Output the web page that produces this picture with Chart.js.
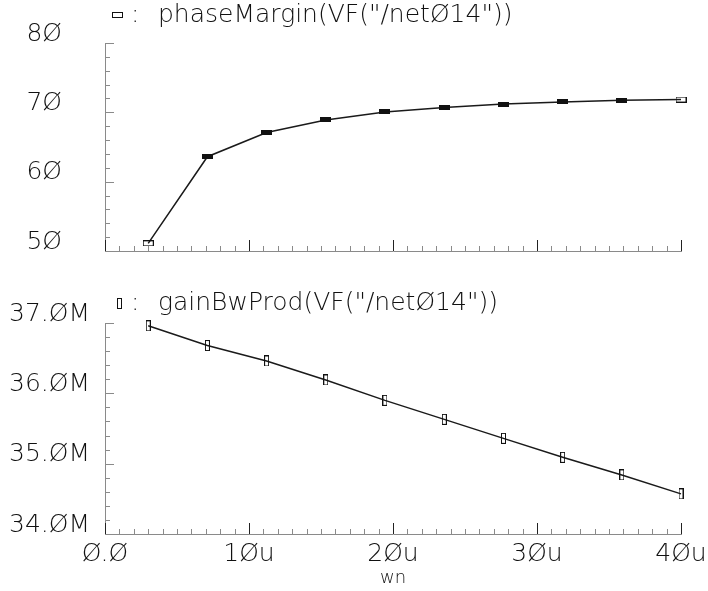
<!DOCTYPE html>
<html>
<head>
<meta charset="utf-8">
<script src="https://cdn.jsdelivr.net/npm/chart.js@4.4.0/dist/chart.umd.min.js"></script>
<style>
  html, body { margin: 0; padding: 0; background: #fff; }
  #wrap { position: relative; width: 708px; height: 591px; overflow: hidden; }
  #pmChart { position: absolute; left: 0; top: 0; }
  #gbwChart { position: absolute; left: 0; top: 262px; }
</style>
</head>
<body>
<div id="wrap">
  <canvas id="pmChart" width="708" height="262"></canvas>
  <canvas id="gbwChart" width="708" height="329"></canvas>
</div>
<script>
// Sweep variable: transistor width wn (in u)
const wn = [3, 7.11, 11.22, 15.33, 19.44, 23.56, 27.67, 31.78, 35.89, 40];
// Phase margin (degrees) at each width
const phaseMargin = [51.1, 63.6, 67.1, 68.9, 70.05, 70.7, 71.2, 71.5, 71.75, 71.85];
// Gain-bandwidth product (in M) at each width
const gainBwProd = [36.96, 36.68, 36.46, 36.19, 35.90, 35.63, 35.36, 35.09, 34.84, 34.57];

// Major tick values of each axis
const wnTicks = [0, 10, 20, 30, 40];
const pmTicks = [50, 60, 70, 80];
const gbwTicks = [34, 35, 36, 37];

const pmLabel = 'phaseMargin(VF("/net014"))';
const gbwLabel = 'gainBwProd(VF("/net014"))';

const FONT = 'DejaVu Sans';
const WEIGHT = '200';
const TEXT = '#111';
const AXIS = '#8a8a8a';

// Waveform-viewer style slashed zero
const slashZero = s => String(s).replace(/0/g, '\u00D8');

function rectMarker(w, h, filled) {
  const c = document.createElement('canvas');
  c.width = w; c.height = h;
  const g = c.getContext('2d');
  if (filled) {
    g.fillStyle = '#111';
    g.fillRect(0, 0, w, h);
  } else {
    g.strokeStyle = '#111';
    g.lineWidth = 1;
    g.strokeRect(0.5, 0.5, w - 1, h - 1);
  }
  return c;
}
const pmHollow = rectMarker(11, 6, false);
const pmFilled = rectMarker(11, 5, true);
const gbwMark = rectMarker(5, 11, false);

// Subdivide a list of major ticks into minor tick positions
function minorsOf(majors, parts) {
  const out = [];
  for (let i = 0; i < majors.length - 1; i++) {
    const step = (majors[i + 1] - majors[i]) / parts;
    for (let k = 1; k < parts; k++) out.push(majors[i] + step * k);
  }
  return out;
}

// Tick marks pointing into the plot area, major ones longer
const inwardTicks = {
  id: 'inwardTicks',
  beforeDatasetsDraw(chart, args, opts) {
    const { ctx, chartArea: a, scales: { x, y } } = chart;
    ctx.save();
    ctx.lineWidth = 1;
    const xs = (vals, len, color) => {
      ctx.strokeStyle = color;
      ctx.beginPath();
      vals.forEach(v => {
        const px = Math.round(x.getPixelForValue(v)) + 0.5;
        ctx.moveTo(px, a.bottom);
        ctx.lineTo(px, a.bottom - len);
      });
      ctx.stroke();
    };
    const ys = (vals, len, color) => {
      ctx.strokeStyle = color;
      ctx.beginPath();
      vals.forEach(v => {
        const py = Math.round(y.getPixelForValue(v)) + 0.5;
        ctx.moveTo(a.left, py);
        ctx.lineTo(a.left + len, py);
      });
      ctx.stroke();
    };
    xs(minorsOf(opts.xMajor, 10), 5, AXIS);
    xs(opts.xMajor, 11, '#222');
    ys(minorsOf(opts.yMajor, 5), 5, AXIS);
    ys(opts.yMajor, 9, AXIS);
    ctx.restore();
  }
};

// Series caption above each plot: marker, colon, expression
const seriesCaption = {
  id: 'seriesCaption',
  afterDraw(chart, args, opts) {
    const { ctx } = chart;
    const ds = chart.data.datasets[0];
    ctx.save();
    ctx.drawImage(opts.marker, Math.round(opts.mx - opts.marker.width / 2), Math.round(opts.y - opts.marker.height / 2));
    ctx.fillStyle = TEXT;
    ctx.font = `${WEIGHT} 25px "${FONT}"`;
    ctx.textBaseline = 'middle';
    ctx.textAlign = 'left';
    ctx.fillText(':', opts.cx, opts.y);
    ctx.fillText(slashZero(ds.label), opts.tx, opts.y);
    ctx.restore();
  }
};

function baseOptions() {
  return {
    responsive: false,
    animation: false,
    events: [],
    plugins: { legend: { display: false }, tooltip: { enabled: false } },
    elements: { line: { tension: 0 } }
  };
}

const tickFont = { family: FONT, size: 25, weight: WEIGHT };

// Axis box of fixed size; label overhang does not move the plot area
const fixBox = (w, h) => s => {
  if (w !== null) s.width = w;
  if (h !== null) s.height = h;
  s.paddingTop = 0; s.paddingBottom = 0; s.paddingLeft = 0; s.paddingRight = 0;
};

// Upper plot: phase margin
const pmOpts = baseOptions();
pmOpts.layout = { padding: { left: 0, top: 43, right: 27, bottom: 0 } };
pmOpts.scales = {
  x: {
    type: 'linear', min: 0, max: 40,
    grid: { display: false, drawTicks: false },
    border: { display: true, color: AXIS, width: 1 },
    ticks: { display: false, stepSize: 10 },
    afterFit: fixBox(null, 11)
  },
  y: {
    type: 'linear', min: 50, max: 80,
    grid: { display: false, drawTicks: false },
    border: { display: true, color: AXIS, width: 1 },
    afterBuildTicks: s => { s.ticks = pmTicks.map(v => ({ value: v })); },
    ticks: {
      color: TEXT, font: tickFont, padding: 43, labelOffset: -9, autoSkip: false,
      callback: v => slashZero(v)
    },
    afterFit: fixBox(105, null)
  }
};
pmOpts.plugins.inwardTicks = { xMajor: wnTicks, yMajor: pmTicks };
pmOpts.plugins.seriesCaption = { marker: pmHollow, mx: 117, cx: 131, tx: 158, y: 15 };

new Chart(document.getElementById('pmChart'), {
  type: 'line',
  data: {
    datasets: [{
      label: pmLabel,
      data: wn.map((x, i) => ({ x, y: phaseMargin[i] })),
      borderColor: '#1a1a1a',
      borderWidth: 1.5,
      clip: false,
      pointStyle: c => (c.dataIndex === 0 || c.dataIndex === wn.length - 1) ? pmHollow : pmFilled,
      pointRadius: 5
    }]
  },
  options: pmOpts,
  plugins: [inwardTicks, seriesCaption]
});

// Lower plot: gain-bandwidth product
const gbwOpts = baseOptions();
gbwOpts.layout = { padding: { left: 0, top: 61, right: 27, bottom: 0 } };
gbwOpts.scales = {
  x: {
    type: 'linear', min: 0, max: 40,
    grid: { display: false, drawTicks: false },
    border: { display: true, color: AXIS, width: 1 },
    afterBuildTicks: s => { s.ticks = wnTicks.map(v => ({ value: v })); },
    ticks: {
      color: TEXT, font: tickFont, padding: 5, maxRotation: 0, autoSkip: false,
      callback: v => v === 0 ? slashZero('0.0') : slashZero(v) + 'u'
    },
    title: { display: true, text: 'wn', color: TEXT, font: { family: FONT, size: 18, weight: WEIGHT }, padding: { top: 0, bottom: 2 } },
    afterFit: fixBox(null, 57)
  },
  y: {
    type: 'linear', min: 34, max: 37,
    grid: { display: false, drawTicks: false },
    border: { display: true, color: AXIS, width: 1 },
    afterBuildTicks: s => { s.ticks = gbwTicks.map(v => ({ value: v })); },
    ticks: {
      color: TEXT, font: tickFont, padding: 15, labelOffset: -9, autoSkip: false,
      callback: v => slashZero(v.toFixed(1)) + 'M'
    },
    afterFit: fixBox(105, null)
  }
};
gbwOpts.plugins.inwardTicks = { xMajor: wnTicks, yMajor: gbwTicks };
gbwOpts.plugins.seriesCaption = { marker: gbwMark, mx: 119, cx: 131, tx: 158, y: 41 };

new Chart(document.getElementById('gbwChart'), {
  type: 'line',
  data: {
    datasets: [{
      label: gbwLabel,
      data: wn.map((x, i) => ({ x, y: gainBwProd[i] })),
      borderColor: '#1a1a1a',
      borderWidth: 1.5,
      clip: false,
      pointStyle: gbwMark,
      pointRadius: 5
    }]
  },
  options: gbwOpts,
  plugins: [inwardTicks, seriesCaption]
});
</script>
</body>
</html>
